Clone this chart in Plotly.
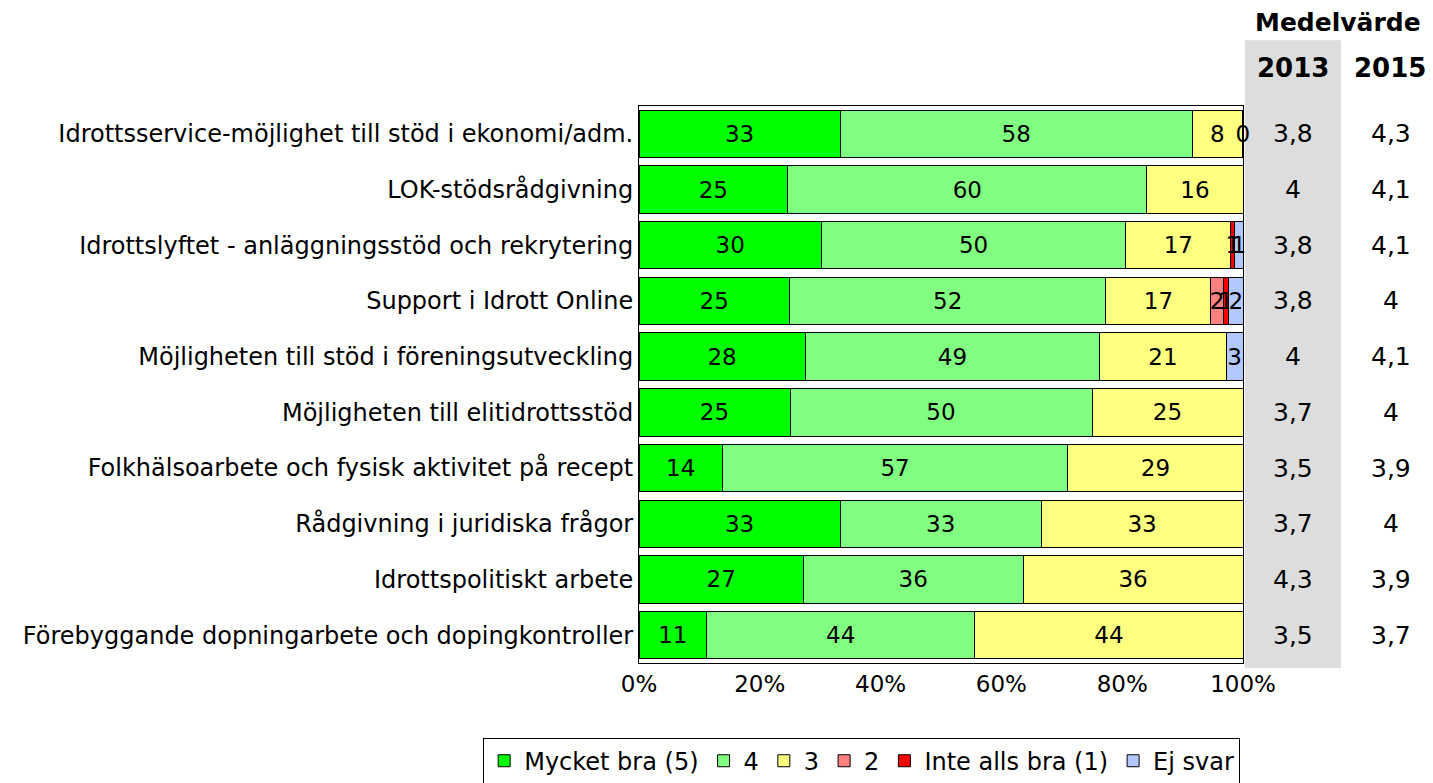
import plotly.graph_objects as go

categories = [
    "Idrottsservice-möjlighet till stöd i ekonomi/adm.",
    "LOK-stödsrådgivning",
    "Idrottslyftet - anläggningsstöd och rekrytering",
    "Support i Idrott Online",
    "Möjligheten till stöd i föreningsutveckling",
    "Möjligheten till elitidrottsstöd",
    "Folkhälsoarbete och fysisk aktivitet på recept",
    "Rådgivning i juridiska frågor",
    "Idrottspolitiskt arbete",
    "Förebyggande dopningarbete och dopingkontroller",
]

series_names = ["Mycket bra (5)", "4", "3", "2", "Inte alls bra (1)", "Ej svar"]
mycket_bra = [33.3, 24.6, 30.2, 24.9, 27.5, 25.0, 13.8, 33.3, 27.2, 11.2]
fyra = [58.3, 59.5, 50.4, 52.4, 48.8, 50.0, 57.2, 33.3, 36.4, 44.4]
tre = [8.3, 15.9, 17.4, 17.4, 20.9, 25.0, 29.0, 33.4, 36.4, 44.4]
tva = [0.1, 0, 0, 2.0, 0, 0, 0, 0, 0, 0]
inte_alls = [0, 0, 0.6, 0.9, 0, 0, 0, 0, 0, 0]
ej_svar = [0, 0, 1.4, 2.4, 2.8, 0, 0, 0, 0, 0]
colors = ["#00ff00", "#80ff80", "#ffff80", "#ff8080", "#ff0000", "#b3c8ff"]

medel_2013 = [3.8, 4.0, 3.8, 3.8, 4.0, 3.7, 3.5, 3.7, 4.3, 3.5]
medel_2015 = [4.3, 4.1, 4.1, 4.0, 4.1, 4.0, 3.9, 4.0, 3.9, 3.7]
x_ticks = [0, 20, 40, 60, 80, 100]

FONT = "Verdana, DejaVu Sans, sans-serif"
FS = 23      # bar labels and tick labels
FC = 24      # category labels, legend
FL = 25      # mean values
FH = 26      # bold year headers


def fmt(v):
    s = f"{v:.1f}".replace(".", ",")
    return s[:-2] if s.endswith(",0") else s


fig = go.Figure()
all_series = [mycket_bra, fyra, tre, tva, inte_alls, ej_svar]
for name, vals, col in zip(series_names, all_series, colors):
    fig.add_trace(go.Bar(
        y=categories, x=vals, name=name, orientation="h",
        marker=dict(color=col, line=dict(color="black", width=1)),
        text=[str(round(v)) if v > 0 else "" for v in vals],
        textposition="inside", insidetextanchor="middle",
        constraintext="none", cliponaxis=False,
        textfont=dict(color="black", size=FS, family=FONT),
        hoverinfo="x+y+name",
    ))

# gray column behind 2013 values
fig.add_shape(type="rect", xref="paper", yref="paper",
              x0=1.003, x1=1.162, y0=-0.009, y1=1.118,
              fillcolor="#dddddd", line=dict(width=0), layer="below")

for cat, a, b in zip(categories, medel_2013, medel_2015):
    fig.add_annotation(x=1.083, y=cat, xref="paper", yref="y", text=fmt(a),
                       xanchor="center", yanchor="middle", showarrow=False,
                       font=dict(size=FL, family=FONT, color="black"))
    fig.add_annotation(x=1.245, y=cat, xref="paper", yref="y", text=fmt(b),
                       xanchor="center", yanchor="middle", showarrow=False,
                       font=dict(size=FL, family=FONT, color="black"))

fig.add_annotation(x=1.158, y=1.15, xref="paper", yref="paper", text="<b>Medelvärde</b>",
                   xanchor="center", yanchor="middle", showarrow=False,
                   font=dict(size=25, family=FONT, color="black"))
fig.add_annotation(x=1.083, y=1.068, xref="paper", yref="paper", text="<b>2013</b>",
                   xanchor="center", yanchor="middle", showarrow=False,
                   font=dict(size=FH, family=FONT, color="black"))
fig.add_annotation(x=1.243, y=1.068, xref="paper", yref="paper", text="<b>2015</b>",
                   xanchor="center", yanchor="middle", showarrow=False,
                   font=dict(size=FH, family=FONT, color="black"))

fig.update_layout(
    width=1425, height=775,
    barmode="stack", bargap=0.15,
    plot_bgcolor="white", paper_bgcolor="white",
    margin=dict(l=631, r=190, t=98, b=120, autoexpand=False),
    font=dict(family=FONT, size=FS, color="black"),
    showlegend=True,
    legend=dict(orientation="h", x=-0.258, xanchor="left", y=-0.134, yanchor="top",
                bordercolor="black", borderwidth=1, font=dict(size=FC, family=FONT),
                itemwidth=30, traceorder="normal", tracegroupgap=0),
    xaxis=dict(range=[0, 100], tickvals=x_ticks, ticktext=[f"{t}%" for t in x_ticks],
               showgrid=False, zeroline=False, showline=True, linecolor="black",
               linewidth=1, mirror=True, ticks="", fixedrange=True, automargin=False),
    yaxis=dict(autorange="reversed", showgrid=False, showline=True, linecolor="black",
               linewidth=1, mirror=True, ticks="", fixedrange=True, automargin=False,
               tickfont=dict(size=FC, family=FONT)),
)

fig.write_html("out.html")
